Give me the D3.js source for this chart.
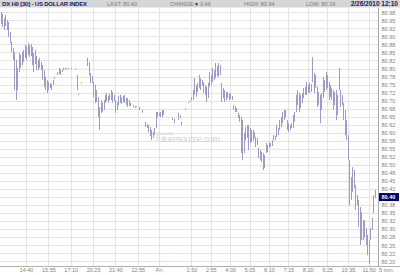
<!DOCTYPE html>
<html>
<head>
<meta charset="utf-8">
<script src="https://cdn.jsdelivr.net/npm/d3@7"></script>
<style>
  body { margin: 0; background: #fff; }
  text { font-family: "Liberation Sans", Arial, sans-serif; }
</style>
</head>
<body>
<script>
"use strict";
// 5 minute bars, DX H0 (null = no trade in that bar)
const highs = [
  80.976, 80.970, 80.957, 80.967, 80.951, 80.945, 80.914, 80.883, 80.864, 80.851,
  80.827, 80.802, 80.848, 80.842, 80.851, 80.858, 80.873, 80.870, 80.879, 80.873,
  80.876, 80.867, 80.848, 80.858, 80.839, 80.827, 80.833, 80.820, 80.811, 80.795,
  80.774, 80.764, 80.758, 80.755, 80.752, 80.764, 80.774, null, 80.789, 80.802,
  80.798, 80.795, 80.802, 80.802, 80.802, 80.802, null, 80.802, null, null,
  80.802, 80.780, 80.721, null, 80.758, null, null, null, 80.833, 80.820,
  80.786, 80.777, 80.758, 80.749, 80.733, 80.711, 80.680, 80.702, 80.693, 80.702,
  80.718, 80.724, 80.715, 80.721, 80.733, 80.727, 80.718, 80.702, 80.696, 80.715,
  80.718, 80.711, 80.715, 80.718, 80.708, 80.708, 80.702, 80.693, null, 80.686,
  80.683, 80.683, null, 80.680, null, 80.671, null, 80.634, 80.627, 80.624,
  80.618, 80.609, 80.602, 80.615, 80.665, 80.665, 80.662, 80.665, 80.671, 80.671,
  null, null, null, null, null, 80.646, 80.643, null, null, 80.662,
  80.655, 80.634, null, null, 80.677, null, 80.696, 80.702, 80.711, 80.733,
  80.770, 80.749, 80.755, 80.780, 80.770, 80.764, 80.758, 80.749, 80.743, 80.755,
  80.789, 80.780, 80.802, 80.795, 80.817, 80.808, 80.817, 80.811, 80.755, 80.739,
  80.733, 80.727, 80.727, 80.724, 80.721, 80.715, 80.686, 80.683, 80.677, 80.662,
  80.655, 80.649, 80.640, 80.599, 80.618, 80.624, 80.624, 80.615, 80.609, 80.609,
  80.602, 80.587, 80.584, 80.553, 80.546, 80.540, 80.537, 80.531, 80.568, 80.562,
  80.571, 80.568, 80.577, 80.593, 80.590, 80.624, 80.615, 80.640, 80.649, 80.665,
  80.671, 80.671, 80.640, 80.630, 80.624, 80.630, 80.655, 80.665, 80.718, 80.733,
  80.724, 80.718, 80.724, 80.739, 80.743, 80.758, 80.749, 80.755, 80.752, 80.836,
  80.786, 80.780, 80.743, 80.727, 80.718, 80.724, 80.774, 80.764, 80.789, 80.780,
  80.758, 80.749, 80.739, 80.733, 80.727, 80.733, 80.718, 80.802, 80.733, 80.718,
  80.693, 80.671, 80.640, 80.593, 80.515, 80.462, 80.493, 80.484, 80.437, 80.406,
  80.391, 80.369, 80.353, 80.328, 80.328, 80.304, 80.282, 80.266, 80.304, 80.335,
  80.406, 80.422
];
const lows = [
  80.939, 80.929, 80.920, 80.932, 80.920, 80.898, 80.879, 80.851, 80.827, 80.733,
  80.702, 80.733, 80.789, 80.802, 80.811, 80.820, 80.833, 80.827, 80.842, 80.836,
  80.839, 80.811, 80.789, 80.814, 80.795, 80.795, 80.802, 80.795, 80.764, 80.743,
  80.733, 80.724, 80.733, 80.739, 80.733, 80.749, 80.767, null, 80.780, 80.783,
  80.780, 80.789, 80.795, 80.798, 80.798, 80.798, null, 80.798, null, null,
  80.798, 80.733, 80.718, null, 80.755, null, null, null, 80.808, 80.780,
  80.755, 80.755, 80.711, 80.693, 80.696, 80.649, 80.609, 80.662, 80.665, 80.671,
  80.693, 80.699, 80.693, 80.702, 80.702, 80.693, 80.699, 80.662, 80.671, 80.686,
  80.693, 80.690, 80.696, 80.693, 80.686, 80.680, 80.683, 80.683, null, 80.680,
  80.677, 80.680, null, 80.671, null, 80.662, null, 80.618, 80.615, 80.602,
  80.590, 80.577, 80.584, 80.593, 80.615, 80.649, 80.652, 80.649, 80.649, 80.655,
  null, null, null, null, null, 80.640, 80.630, null, null, 80.640,
  80.646, 80.624, null, null, 80.674, null, 80.693, 80.696, 80.702, 80.702,
  80.718, 80.711, 80.727, 80.739, 80.733, 80.746, 80.724, 80.718, 80.696, 80.708,
  80.743, 80.749, 80.758, 80.764, 80.770, 80.777, 80.774, 80.780, 80.696, 80.708,
  80.696, 80.702, 80.708, 80.702, 80.705, 80.702, 80.671, 80.665, 80.665, 80.646,
  80.634, 80.537, 80.515, 80.537, 80.577, 80.584, 80.546, 80.568, 80.571, 80.577,
  80.584, 80.556, 80.562, 80.521, 80.515, 80.509, 80.484, 80.490, 80.537, 80.540,
  80.553, 80.556, 80.559, 80.577, 80.577, 80.587, 80.593, 80.609, 80.618, 80.630,
  80.640, 80.649, 80.609, 80.602, 80.609, 80.615, 80.615, 80.634, 80.665, 80.686,
  80.665, 80.677, 80.693, 80.708, 80.718, 80.718, 80.724, 80.724, 80.727, 80.758,
  80.724, 80.739, 80.680, 80.686, 80.630, 80.671, 80.708, 80.727, 80.733, 80.739,
  80.702, 80.711, 80.702, 80.671, 80.686, 80.640, 80.655, 80.733, 80.680, 80.686,
  80.640, 80.593, 80.577, 80.515, 80.375, 80.391, 80.416, 80.428, 80.360, 80.375,
  80.307, 80.251, 80.266, 80.266, 80.275, 80.251, 80.219, 80.191, 80.266, 80.297,
  80.350, 80.397
];

// time axis: labels and the bar they sit on
const timeLabels = ["14:40", "15:55", "17:10", "20:25", "21:40", "22:55", "Fri",
  "1:50", "2:55", "4:00", "5:05", "6:10", "7:15", "8:20", "9:25", "10:35", "11:50"];
const timeTickBars = [17, 32, 47, 62, 77, 92, 106, 128, 141, 154, 167, 180, 193, 206, 219, 233, 247];

// price axis
const priceTicks = [80.975, 80.95, 80.925, 80.9, 80.875, 80.85, 80.825, 80.8, 80.775, 80.75,
  80.725, 80.7, 80.675, 80.65, 80.625, 80.6, 80.575, 80.55, 80.525, 80.5, 80.475, 80.45,
  80.425, 80.4, 80.375, 80.35, 80.325, 80.3, 80.275, 80.25, 80.225, 80.2];
const priceLabels = ["80.98", "80.95", "80.92", "80.90", "80.88", "80.85", "80.82", "80.80",
  "80.78", "80.75", "80.72", "80.70", "80.68", "80.65", "80.62", "80.60", "80.58", "80.55",
  "80.52", "80.50", "80.48", "80.45", "80.42", "80.40", "80.38", "80.35", "80.32", "80.30",
  "80.28", "80.25", "80.22", "80.20"];

const lastPrice = 80.40;
const lastLabel = "80.40";
const title = "DX H0 [30] - US DOLLAR INDEX";
const stamp = "2/26/2010 12:10";
const stats = [["LAST: 80.40", 107], ["CHANGE:", 170], ["0.46", 200], ["HIGH: 80.94", 244], ["LOW: 80.19", 306]];

const width = 400, height = 275;
const plot = { left: 0, right: 378, top: 8, bottom: 266 };

const svg = d3.select("body").append("svg")
  .attr("width", width)
  .attr("height", height);

svg.append("rect").attr("width", width).attr("height", height).attr("fill", "#fff");

const xScale = d3.scaleLinear().domain([0, 251]).range([0.7, 374.7]);
const yScale = d3.scaleLinear().domain([80.2, 80.975]).range([261.3, 12.3]);

// grid
svg.append("g").selectAll("line")
  .data(priceTicks)
  .join("line")
  .attr("x1", plot.left).attr("x2", plot.right)
  .attr("y1", d => Math.round(yScale(d)) + 0.5)
  .attr("y2", d => Math.round(yScale(d)) + 0.5)
  .attr("stroke", "#e4e4e4");

svg.append("g").selectAll("line")
  .data(timeTickBars)
  .join("line")
  .attr("x1", d => Math.round(xScale(d)) + 0.5)
  .attr("x2", d => Math.round(xScale(d)) + 0.5)
  .attr("y1", plot.top).attr("y2", plot.bottom)
  .attr("stroke", "#e4e4e4");

// watermark
svg.append("text")
  .attr("x", 157).attr("y", 134.5)
  .attr("font-size", 3).attr("fill", "#c8c8c8")
  .text("Powered by");
svg.append("text")
  .attr("x", 156).attr("y", 142)
  .attr("font-size", 9).attr("fill", "#d2d2d2")
  .attr("textLength", 64)
  .text("futuresource.com");

// high-low bars
const bars = d3.range(highs.length).filter(i => highs[i] != null);
svg.append("g").selectAll("line")
  .data(bars)
  .join("line")
  .attr("x1", i => Math.round(xScale(i)) + 0.5)
  .attr("x2", i => Math.round(xScale(i)) + 0.5)
  .attr("y1", i => yScale(highs[i]))
  .attr("y2", i => Math.max(yScale(lows[i]), yScale(highs[i]) + 1.2))
  .attr("stroke", "#9c9cc4")
  .attr("stroke-width", 1);

// right price axis
const yAxis = svg.append("g")
  .attr("transform", `translate(${plot.right + 0.5},0)`)
  .call(d3.axisRight(yScale).tickValues(priceTicks)
    .tickFormat((d, i) => priceLabels[i]).tickSize(0).tickPadding(3));
yAxis.select(".domain").attr("stroke", "#a8a8a8").attr("d", `M0,${plot.top}V${plot.bottom}`);
yAxis.selectAll("text").attr("font-size", 5.5).attr("fill", "#808080")
  .attr("font-family", "'Liberation Sans', Arial, sans-serif");

// last price marker
const yl = yScale(lastPrice);
svg.append("rect")
  .attr("x", 379).attr("y", yl - 4).attr("width", 20).attr("height", 8)
  .attr("fill", "#000066");
svg.append("text")
  .attr("x", 381.5).attr("y", yl + 2)
  .attr("font-size", 5.5).attr("font-weight", "bold").attr("fill", "#fff")
  .text(lastLabel);

// bottom time axis
const xAxis = svg.append("g")
  .attr("transform", `translate(0,${plot.bottom + 0.5})`)
  .call(d3.axisBottom(xScale).tickValues(timeTickBars)
    .tickFormat((d, i) => timeLabels[i]).tickSize(0).tickPadding(1.5));
xAxis.select(".domain").attr("stroke", "#b0b0b0").attr("d", `M0,0H${width}`);
xAxis.selectAll("text").attr("font-size", 5.5).attr("fill", "#808080")
  .attr("font-family", "'Liberation Sans', Arial, sans-serif");
svg.append("text")
  .attr("x", 379).attr("y", 272)
  .attr("font-size", 5.5).attr("fill", "#808080")
  .text("5 min.");

// header
svg.append("rect").attr("width", width).attr("height", plot.top - 0.5).attr("fill", "#d6d6d6");
svg.append("text")
  .attr("x", 2).attr("y", 6)
  .attr("font-size", 6).attr("font-weight", "bold").attr("fill", "#1a1a66")
  .attr("textLength", 85)
  .text(title);
svg.append("g").selectAll("text")
  .data(stats)
  .join("text")
  .attr("x", d => d[1]).attr("y", 6)
  .attr("font-size", 5.5).attr("fill", "#7a7a7a")
  .text(d => d[0]);
svg.append("text")
  .attr("x", 194).attr("y", 6)
  .attr("font-size", 5).attr("fill", "#1a1a66")
  .attr("font-family", "'DejaVu Sans', sans-serif")
  .text("▼");
svg.append("text")
  .attr("x", 398).attr("y", 6)
  .attr("text-anchor", "end")
  .attr("font-size", 6.5).attr("font-weight", "bold").attr("fill", "#1a1a66")
  .text(stamp);
</script>
</body>
</html>
